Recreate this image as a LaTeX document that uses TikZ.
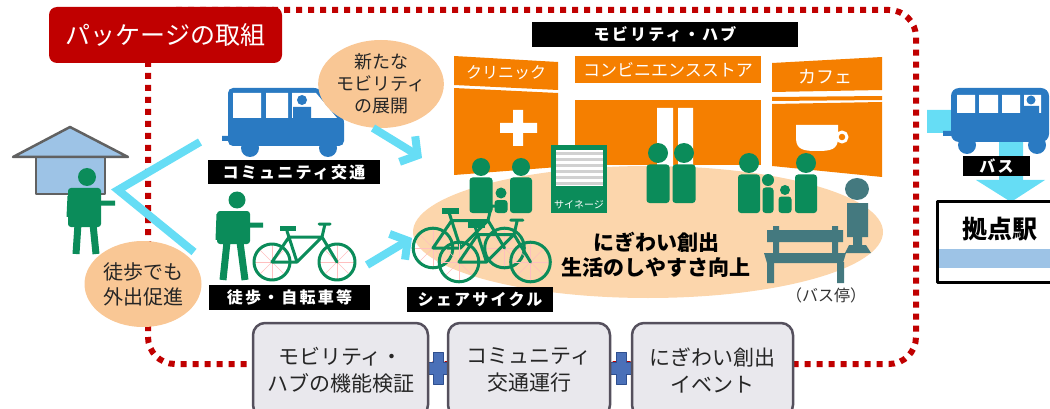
\documentclass[tikz,border=0pt]{standalone}
\usepackage{fontspec}
\setmainfont{Noto Sans CJK JP}
\newfontfamily\tagfont{Noto Sans CJK JP}[LetterSpace=14]
\usetikzlibrary{positioning,shapes.geometric,arrows.meta}

\definecolor{framered}{HTML}{C00000}
\definecolor{huborange}{HTML}{F57F00}
\definecolor{peach}{HTML}{FCD6AC}
\definecolor{memofill}{HTML}{F9C795}
\definecolor{skyline}{HTML}{66DDF5}
\definecolor{walkgreen}{HTML}{0B8C5A}
\definecolor{busblue}{HTML}{2A7AC2}
\definecolor{stopteal}{HTML}{44797F}
\definecolor{roofblue}{HTML}{9DC3E6}
\definecolor{boxgray}{HTML}{E9E8ED}
\definecolor{boxedge}{HTML}{55505D}
\definecolor{plusblue}{HTML}{4A70B8}
\definecolor{plusedge}{HTML}{2F4F8F}

\tikzset{
  labeltag/.style={fill=black,text=white,inner sep=0pt,
    font=\tagfont\bfseries\fontsize{16}{16}\selectfont},
  memo/.style={ellipse,fill=memofill,inner sep=0pt,align=center,text=black!85,
    font=\fontsize{18}{22}\selectfont},
  task/.style={rectangle,rounded corners=12pt,fill=boxgray,draw=boxedge,line width=2.5pt,
    align=center,text=black!85,font=\fontsize{21}{27}\selectfont},
  flow/.style={draw=skyline,line width=8pt},
  housewall/.style={fill=roofblue,draw=black!62,line width=2.5pt},
  limb/.style={draw=walkgreen,line width=5pt},
  leg/.style={draw=walkgreen,line width=7pt},
  bikeline/.style={draw=walkgreen,line width=3pt,line cap=round},
  bikespoke/.style={draw=red!25,line width=0.5pt},
  panel/.style={fill=huborange},
  paneltext/.style={text=white,inner sep=0pt,font=\fontsize{17}{17}\selectfont},
  pics/guest/.style n args={3}{code={
    \fill[walkgreen] (0,0) circle [radius=#1];
    \fill[walkgreen,rounded corners=3pt] (-#2,#1+1.5) rectangle (#2,#3);
  }},
  pics/cycle/.style={code={
    \foreach \hub in {0,65} \foreach \a in {0,45,90,135}
      \draw[bikespoke] (\hub,0) ++(\a:17) -- ++(\a+180:34);
    \draw[bikeline] (0,0) circle [radius=18] (65,0) circle [radius=18];
    \draw[bikeline] (0,0) -- (25,0) -- (50,-25) -- (17,-25) -- cycle
      (25,0) -- (15,-31) (50,-25) -- (65,0) (50,-25) -- (53,-38) (47,-38) -- (58,-38);
    \fill[walkgreen] (8,-36) rectangle (24,-31);
  }},
}

\begin{document}
\begin{tikzpicture}[x=1pt,y=-1pt,line join=round]
\useasboundingbox (0,0) rectangle (1050,409);

% dotted outline of the package
\draw[framered,line width=6pt,dash pattern=on 6pt off 6pt,rounded corners=27pt]
  (148,10) rectangle (916,364);
\node[fill=framered,text=white,rounded corners=8pt,minimum width=233pt,minimum height=56pt,
  inner sep=0pt,font=\fontsize{25}{25}\selectfont] (pkg) at (165.5,35) {パッケージの取組};

% home and resident
\draw[housewall] (36,157) rectangle (105,194);
\draw[housewall] (13,157) -- (70,127) -- (128,157) -- cycle;
\fill[walkgreen] (87,177) circle [radius=9];
\fill[walkgreen,rounded corners=3pt] (68,188) rectangle (101,227);
\draw[limb] (100,203) -- (115,203) (70,196) -- (69,217);
\draw[leg] (78,224) -- (76,254) (93,224) -- (96,254);

\coordinate (home) at (118,190);
\coordinate (toVan) at (200,142);
\coordinate (toWalk) at (194,252);
\draw[flow,line join=miter] (toVan) -- (home) -- (toWalk);

\node[memo,minimum width=117pt,minimum height=86pt,font=\fontsize{20}{25}\selectfont]
  (walkMemo) at (143,284) {徒歩でも\\外出促進};

% community van
\fill[busblue,rounded corners=5pt] (228,118) -- (228,88) -- (319,88) -- (344,118)
  -- (344,146) -- (228,146) -- cycle;
\fill[white] (233,93) rectangle (261,118) (266,93) rectangle (288,118);
\fill[white] (292,93) -- (316,93) -- (337,118) -- (292,118) -- cycle;
\fill[busblue] (302,100) circle [radius=5] (293,107) rectangle (311,118);
\fill[busblue] (222,136) rectangle (229,141) (250,148) circle [radius=9] (328,148) circle [radius=9];
\node[labeltag,minimum width=172pt,minimum height=24pt] (vanTag) at (294,172) {コミュニティ交通};

\node[memo,minimum width=104pt,minimum height=88pt] (newMemo) at (381,84) {新たな\\モビリティ\\の展開};

% walking and own bicycle
\fill[walkgreen] (237,200) circle [radius=8.5];
\fill[walkgreen,rounded corners=3pt] (217,211) rectangle (250,244);
\draw[limb] (249,225) -- (263,225) (219,214) -- (218,240);
\draw[leg] (227,242) -- (223,280) (240,242) -- (245,280);
\pic at (272,262) {cycle};
\node[labeltag,minimum width=161pt,minimum height=25pt] (walkTag) at (289.5,297.5) {徒歩・自転車等};

% hub square
\fill[peach] (648,232) ellipse [x radius=235, y radius=66];

\pic[scale=1.1] at (433,248) {cycle};
\pic[scale=1.1] at (459,262) {cycle};
\node[labeltag,minimum width=146pt,minimum height=25pt] (shareTag) at (480,299.5) {シェアサイクル};

\coordinate (vanOut) at (373,128);
\coordinate (hubIn) at (422,158);
\coordinate (walkOut) at (367,265);
\coordinate (cycleIn) at (412,238);
\draw[flow,-{Straight Barb[length=12pt,width=30pt]}] (vanOut) -- (hubIn);
\draw[flow,-{Straight Barb[length=12pt,width=30pt]}] (walkOut) -- (cycleIn);

\node[labeltag,minimum width=266pt,minimum height=25pt] (hubTag) at (665,34.5) {モビリティ・ハブ};

% clinic
\fill[panel] (454,56) -- (558,62) -- (558,90) -- (454,85) -- cycle;
\fill[panel] (454,88) -- (558,93) -- (558,167) -- (454,175) -- cycle;
\fill[white] (513,110) rectangle (523,146) (500,123) rectangle (537,133);
\node[paneltext,font=\fontsize{16}{16}\selectfont] (clinic) at (506,73) {クリニック};

% convenience store
\fill[panel] (575,56) rectangle (761,83);
\fill[panel] (575,100) rectangle (761,165);
\fill[white] (657,108) rectangle (673,165) (678,108) rectangle (693,165);
\node[paneltext] (store) at (668,70) {コンビニエンスストア};

% cafe
\fill[panel] (772,63) -- (882,57) -- (882,90) -- (772,92) -- cycle;
\fill[panel] (772,97) -- (882,96) -- (882,100) -- (772,101) -- cycle;
\fill[panel] (772,104) -- (882,102) -- (882,177) -- (772,166) -- cycle;
\fill[white] (796,125) -- (838,125) -- (838,138) .. controls (838,150) and (830,151) .. (817,151)
  .. controls (804,151) and (796,150) .. (796,138) -- cycle;
\draw[white,line width=3pt] (842,137) circle [radius=5];
\node[paneltext,font=\fontsize{18}{18}\selectfont] (cafe) at (825,77) {カフェ};

% signage
\fill[walkgreen] (551,145) rectangle (607,213);
\fill[white] (556,150) rectangle (603,186);
\foreach \y in {152,158,...,182} \fill[black!18] (556,\y) rectangle (603,\y+3);
\node[text=white,inner sep=0pt,font=\fontsize{10}{10}\selectfont] (signTxt) at (579,205) {サイネージ};

% people in the square
\pic at (481,167) {guest={9}{11.5}{46}};
\pic at (521,167) {guest={9}{11}{46}};
\pic at (501,193) {guest={5.5}{6.5}{20}};
\pic at (658,153) {guest={10}{11.5}{50}};
\pic at (684,153) {guest={10}{11.5}{50}};
\pic at (749,163) {guest={10}{11}{50}};
\pic at (768,180) {guest={6}{5.5}{33}};
\pic at (785,190) {guest={5}{6.5}{23}};
\pic at (806,163) {guest={10}{11}{50}};

% bus stop
\fill[stopteal] (857,189) ellipse [x radius=12, y radius=11];
\fill[stopteal] (847,203) rectangle (868,237) (853,236) rectangle (862,247);
\fill[stopteal] (845,253) -- (849,245) -- (866,245) -- (871,253) -- cycle;
\fill[stopteal] (767,230) rectangle (843,242) (773,226) rectangle (779,262) (832,226) rectangle (838,262);
\fill[stopteal] (764,253) -- (846,253) -- (843,263) -- (767,263) -- cycle;
\fill[stopteal] (767,262) rectangle (774,283) (837,262) rectangle (844,283);
\node[font=\fontsize{16}{16}\selectfont,text=black!80] (stopTxt) at (826,295) {（バス停）};

\node[align=center,font=\bfseries\fontsize{21}{25}\selectfont] (lifeTxt) at (656,255)
  {にぎわい創出\\生活のしやすさ向上};

% route bus to the station
\fill[skyline] (927,110) rectangle (951,133) (999,140) rectangle (1023,182);
\fill[skyline] (976,180) -- (1045,180) -- (1011,202) -- cycle;
\fill[busblue,rounded corners=8pt] (951,88) rectangle (1049,142);
\fill[white] (957,95) rectangle (975,113) (979,95) rectangle (998,113)
  (1002,95) rectangle (1020,113) (1024,95) rectangle (1041,113);
\fill[busblue] (1031,100) circle [radius=4.5] (1024,106) rectangle (1039,113);
\fill[busblue] (943,131) rectangle (952,136) (967,145) circle [radius=9] (1037,145) circle [radius=9];
\node[labeltag,minimum width=67pt,minimum height=20pt] (busTag) at (996.5,166) {バス};

\draw[black,line width=3pt,fill=white] (937,201) rectangle (1056,282);
\fill[roofblue] (938.5,249) rectangle (1050,268);
\node[font=\bfseries\fontsize{25}{25}\selectfont] (station) at (1000,229) {拠点駅};

% measures of the package
\foreach \px in {438,621}
  \filldraw[fill=plusblue,draw=plusedge,line width=1pt]
    (\px-5,352) -- (\px+5,352) -- (\px+5,362) -- (\px+15,362) -- (\px+15,374) -- (\px+5,374)
    -- (\px+5,384) -- (\px-5,384) -- (\px-5,374) -- (\px-15,374) -- (\px-15,362) -- (\px-5,362) -- cycle;
\node[task,minimum width=175pt,minimum height=94pt] (hubCheck) at (340.5,370) {モビリティ・\\ハブの機能検証};
\node[task,minimum width=162pt,minimum height=94pt] (transit) at (529,370) {コミュニティ\\交通運行};
\node[task,minimum width=161pt,minimum height=94pt] (event) at (712.5,370) {にぎわい創出\\イベント};
\end{tikzpicture}
\end{document}
